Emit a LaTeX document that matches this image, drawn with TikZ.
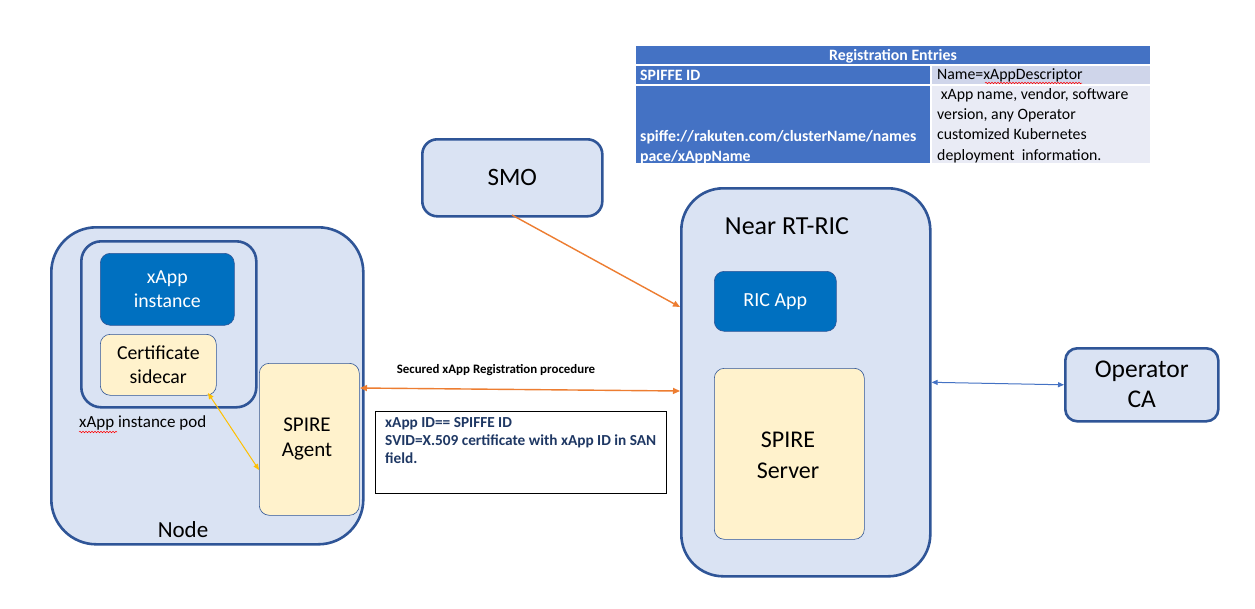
\documentclass[tikz,border=0pt]{standalone}
\usepackage{fontspec}
\setmainfont{Carlito}
\usetikzlibrary{arrows.meta,decorations.pathmorphing}
\definecolor{boxfill}{HTML}{DAE3F3}
\definecolor{boxline}{HTML}{2F5597}
\definecolor{appblue}{HTML}{0070C0}
\definecolor{spirefill}{HTML}{FFF2CC}
\definecolor{tblue}{HTML}{4472C4}
\definecolor{tlightA}{HTML}{CFD5EA}
\definecolor{tlightB}{HTML}{E9EBF5}
\definecolor{orangeA}{HTML}{ED7D31}
\definecolor{yellowA}{HTML}{FFC000}
\definecolor{navy}{HTML}{1F3864}
\begin{document}
\begin{tikzpicture}[x=1pt,y=-1pt,
  bigbox/.style={draw=boxline, line width=2.6pt, fill=boxfill, anchor=north west, inner sep=0pt},
  appbox/.style={draw=boxline, line width=0.6pt, fill=appblue, rounded corners=10pt, anchor=north west, inner sep=0pt},
  spirebox/.style={draw=boxline, line width=0.6pt, fill=spirefill, rounded corners=10pt, anchor=north west, inner sep=0pt},
  lbl/.style={inner sep=0pt, align=center, font=\fontsize{25}{30}\selectfont},
  applbl/.style={inner sep=0pt, align=center, text=white, font=\fontsize{20}{24}\selectfont},
  ttext/.style={inner sep=0pt, anchor=west, font=\fontsize{15.8}{20.3}\selectfont},
  tbold/.style={ttext, text=white, font=\bfseries\fontsize{15.8}{20}\selectfont},
  arrA/.style={line width=1.4pt, {Triangle[length=7pt,width=6pt]}-{Triangle[length=7pt,width=6pt]}},
  spell/.style={draw=red, line width=0.5pt, decorate, decoration={snake, amplitude=0.8pt, segment length=3pt}}
]
\useasboundingbox[fill=white] (0,0) rectangle (1255,608);

% ---- Registration table ----
\fill[tblue] (636,46) rectangle (1150,64);
\fill[tblue] (636,66) rectangle (930,84);
\fill[tlightA] (932,66) rectangle (1150,84);
\fill[tblue] (636,86) rectangle (930,163);
\fill[tlightB] (932,86) rectangle (1150,163);
\node[tbold, anchor=center] (th) at (893,56) {Registration Entries};
\node[tbold] (tid) at (640,75) {SPIFFE ID};
\node[ttext] (tname) at (937,75) {Name=xAppDescriptor};
\draw[spell] (985,83) -- (1082,83);
\node[tbold, anchor=south west, align=left] (tspiffe) at (640,164) {spiffe://rakuten.com/clusterName/names\\pace/xAppName};
\node[ttext, anchor=north west, align=left] (tdesc) at (937,88) {\ xApp name, vendor, software\\version, any Operator\\customized Kubernetes\\deployment\ \ information.};

% ---- SMO ----
\node[bigbox, rounded corners=15pt, minimum width=180pt, minimum height=77pt] (smo) at (421,138) {};
\node[lbl] (smot) at (smo.center) {SMO};

% ---- Near RT-RIC ----
\node[bigbox, rounded corners=42pt, minimum width=249pt, minimum height=388pt] (ric) at (680,187) {};
\node[lbl, font=\fontsize{26}{30}\selectfont] (rict) at (787,226) {Near RT-RIC};
\node[appbox, minimum width=122pt, minimum height=60pt] (ricapp) at (714,271) {};
\node[applbl] (ricappt) at (ricapp.center) {RIC App};
\node[spirebox, minimum width=150pt, minimum height=171pt] (server) at (714,368) {};
\node[lbl, font=\fontsize{24}{31}\selectfont] (servert) at (788,455) {SPIRE\\Server};

% ---- Operator CA ----
\node[bigbox, rounded corners=12pt, minimum width=153pt, minimum height=73pt] (opca) at (1064,347) {};
\node[lbl, font=\fontsize{25.5}{30}\selectfont] (opcat) at (opca.center) {Operator\\CA};

% ---- Node ----
\node[bigbox, rounded corners=45pt, minimum width=312pt, minimum height=317pt] (node) at (50,226) {};
\node[lbl, font=\fontsize{23}{27}\selectfont] (nodet) at (183,530) {Node};
\node[bigbox, rounded corners=20pt, minimum width=175pt, minimum height=166pt] (pod) at (80,240) {};
\node[appbox, minimum width=134pt, minimum height=72pt] (xapp) at (100,253) {};
\node[applbl, font=\fontsize{19.8}{24}\selectfont] (xappt) at (xapp.center) {xApp\\instance};
\node[spirebox, minimum width=116pt, minimum height=61pt] (sidecar) at (100,334) {};
\node[lbl, font=\fontsize{19.8}{24}\selectfont] (sidecart) at (sidecar.center) {Certificate\\sidecar};
\node[inner sep=0pt, anchor=west, font=\fontsize{17}{20}\selectfont] (podt) at (79,423) {xApp instance pod};
\draw[spell] (79,432) -- (117,432);
\node[spirebox, minimum width=100pt, minimum height=152pt] (agent) at (259,363) {};
\node[lbl, font=\fontsize{21}{25}\selectfont] (agentt) at (307,439) {SPIRE\\Agent};

% ---- text box ----
\node[draw=black, line width=0.7pt, anchor=north west, minimum width=291pt, minimum height=82pt, inner sep=0pt] (idbox) at (375,411) {};
\node[inner sep=0pt, anchor=north west, align=left, text=navy, font=\bfseries\fontsize{15.3}{18.2}\selectfont] (idt) at (385,417) {xApp ID== SPIFFE ID\\SVID=X.509 certificate with xApp ID in SAN\\field.};

% ---- connectors ----
\coordinate (smoout) at (512,215);
\coordinate (ricin) at (680,307);
\draw[orangeA, line width=1.4pt, -{Triangle[length=7pt,width=6pt]}] (smoout) -- (ricin);
\coordinate (regL) at (360,388);
\coordinate (regR) at (680,391);
\draw[orangeA, arrA] (regL) -- (regR);
\node[inner sep=0pt, font=\bfseries\fontsize{12.9}{15}\selectfont] (regt) at (496,370) {Secured xApp Registration procedure};
\coordinate (scout) at (208,393);
\coordinate (agin) at (259,470);
\draw[yellowA, line width=1pt, {Triangle[length=6pt,width=5pt]}-{Triangle[length=6pt,width=5pt]}] (scout) -- (agin);
\draw[tblue, line width=1pt, {Triangle[length=6pt,width=5pt]}-{Triangle[length=6pt,width=5pt]}] (ric.east) -- (opca.west);
\end{tikzpicture}
\end{document}
